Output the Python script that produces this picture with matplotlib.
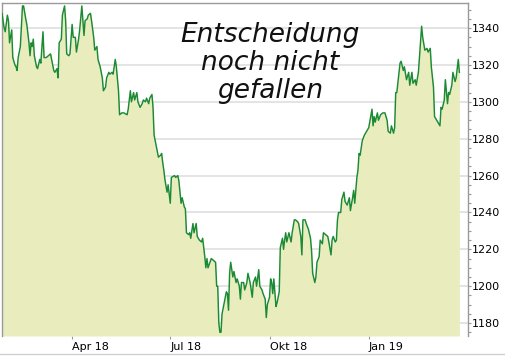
import pandas as pd
import matplotlib
matplotlib.use('Agg')
import matplotlib.pyplot as plt
from matplotlib.ticker import MultipleLocator
from matplotlib.lines import Line2D

# gold price, days counted from the first point
start = '2018-01-26'
days = [0, 2, 3, 5, 6, 7, 9, 10, 12, 13, 14, 15, 17, 19, 20, 22, 23, 25, 26, 27,
        28, 29, 30, 32, 33, 35, 36, 38, 39, 41, 43, 45, 46, 48, 49, 51, 52, 53, 55, 56,
        58, 59, 60, 62, 63, 65, 66, 68, 69, 71, 72, 74, 76, 77, 79, 80, 82, 83, 85, 86,
        88, 89, 91, 93, 94, 96, 97, 99, 100, 102, 103, 105, 106, 108, 109, 111, 113, 116, 117, 119,
        120, 122, 123, 125, 126, 128, 130, 131, 133, 134, 136, 137, 139, 140, 141, 142, 143, 145, 147, 148,
        149, 150, 151, 153, 154, 156, 157, 160, 161, 163, 164, 166, 167, 169, 170, 171, 173, 174, 175, 177,
        178, 180, 181, 183, 185, 186, 187, 188, 189, 190, 191, 194, 196, 198, 199, 200, 201, 202, 203, 204,
        206, 208, 209, 210, 211, 212, 214, 215, 217, 218, 220, 221, 222, 224, 225, 227, 228, 230, 232, 233,
        235, 236, 238, 239, 241, 242, 244, 245, 246, 248, 249, 250, 251, 252, 254, 255, 257, 258, 260, 261,
        262, 263, 264, 266, 268, 269, 271, 272, 274, 275, 277, 278, 279, 281, 282, 284, 286, 287, 288, 290,
        291, 292, 294, 295, 297, 298, 300, 302, 303, 305, 306, 307, 309, 310, 311, 312, 314, 315, 317, 318,
        320, 322, 323, 325, 326, 327, 329, 330, 331, 332, 334, 336, 337, 339, 340, 343, 344, 345, 346, 348,
        349, 351, 353, 355, 357, 358, 360, 361, 363, 364, 365, 366, 368, 369, 370, 372, 373, 375, 377, 378,
        380, 381, 383, 384, 386, 387, 389, 390, 392, 394, 395, 397, 398, 400, 401, 403, 404, 406, 407, 408,
        410, 411, 413, 414, 415, 417, 418, 420, 421, 423, 424]
prices = [1348, 1340, 1338, 1347, 1344, 1332, 1339, 1324, 1320, 1319, 1317, 1324, 1330, 1352, 1352, 1345, 1342, 1332, 1325, 1332,
          1330, 1334, 1325, 1319, 1318, 1323, 1321, 1338, 1324, 1324, 1325, 1326, 1323, 1317, 1316, 1318, 1313, 1332, 1334, 1347,
          1352, 1344, 1326, 1325, 1326, 1342, 1335, 1335, 1327, 1334, 1339, 1352, 1336, 1344, 1345, 1347, 1348, 1344, 1335, 1328,
          1330, 1323, 1319, 1313, 1306, 1308, 1313, 1316, 1315, 1316, 1315, 1323, 1319, 1306, 1293, 1294, 1294, 1293, 1296, 1306,
          1300, 1305, 1301, 1305, 1300, 1297, 1299, 1301, 1300, 1302, 1299, 1302, 1304, 1297, 1282, 1279, 1276, 1270, 1271, 1272,
          1267, 1263, 1258, 1251, 1255, 1245, 1259, 1260, 1259, 1260, 1257, 1245, 1248, 1243, 1242, 1229, 1228, 1229, 1226, 1234,
          1229, 1234, 1227, 1225, 1224, 1226, 1221, 1216, 1210, 1215, 1210, 1215, 1214, 1213, 1200, 1200, 1180, 1175, 1175, 1185,
          1191, 1197, 1196, 1187, 1207, 1213, 1205, 1208, 1202, 1204, 1200, 1193, 1202, 1202, 1198, 1202, 1207, 1202, 1194, 1202,
          1205, 1200, 1209, 1200, 1198, 1196, 1193, 1183, 1190, 1194, 1204, 1202, 1196, 1204, 1189, 1191, 1197, 1221, 1226, 1220,
          1225, 1229, 1224, 1229, 1224, 1229, 1236, 1236, 1235, 1234, 1227, 1217, 1236, 1236, 1234, 1231, 1226, 1219, 1207, 1202,
          1205, 1213, 1216, 1225, 1223, 1229, 1228, 1227, 1224, 1217, 1225, 1227, 1224, 1225, 1236, 1240, 1240, 1247, 1251, 1246,
          1244, 1248, 1241, 1248, 1252, 1245, 1259, 1263, 1272, 1271, 1279, 1282, 1283, 1285, 1286, 1296, 1287, 1292, 1289, 1294,
          1290, 1293, 1294, 1294, 1290, 1284, 1283, 1287, 1283, 1286, 1305, 1305, 1316, 1321, 1322, 1317, 1319, 1312, 1316, 1309,
          1316, 1310, 1312, 1309, 1316, 1324, 1341, 1335, 1328, 1329, 1327, 1329, 1319, 1308, 1292, 1290, 1289, 1287, 1297, 1296,
          1301, 1312, 1299, 1305, 1304, 1309, 1316, 1311, 1313, 1323, 1316]

tick_dates = ['2018-04-01', '2018-07-01', '2018-10-01', '2019-01-01']
tick_labels = ['Apr 18', 'Jul 18', 'Okt 18', 'Jan 19']
note = 'Entscheidung\nnoch nicht\ngefallen'


def main():
    dates = pd.Timestamp(start) + pd.to_timedelta(days, unit='D')

    fig = plt.figure(figsize=(5.06, 3.57), dpi=100)
    ax = fig.add_axes([2 / 506, 1 - 336 / 357, 466 / 506, 333 / 357])

    ax.set_xlim(pd.Timestamp(start), pd.Timestamp(start) + pd.Timedelta(days=432))
    ax.set_ylim(1173, 1353.6)

    ax.fill_between(dates, prices, ax.get_ylim()[0], color='#e9ecbd', lw=0, zorder=2)
    ax.plot(dates, prices, color='#1b8a35', lw=1.05, zorder=3)

    ax.yaxis.set_major_locator(MultipleLocator(20))
    ax.yaxis.set_minor_locator(MultipleLocator(5))
    ax.yaxis.tick_right()
    ax.grid(axis='y', color='#e2e2e2', lw=1.3, zorder=1)
    ax.tick_params(axis='y', which='both', direction='out', length=2, width=0.8,
                   color='#9a9a9a', labelsize=8, pad=1)

    ax.set_xticks(pd.to_datetime(tick_dates))
    ax.set_xticklabels(tick_labels, ha='left')
    ax.tick_params(axis='x', direction='out', length=2, width=0.8,
                   color='#9a9a9a', labelsize=8, pad=2)

    for s in ['top', 'left', 'right']:
        ax.spines[s].set_color('#9a9a9a')
        ax.spines[s].set_linewidth(1.0)
    ax.spines['bottom'].set_visible(False)

    # handwritten note in the original, no script font here
    ax.text(0.575, 0.82, note, transform=ax.transAxes, ha='center', va='center',
            style='italic', fontsize=19, linespacing=1.08, color='#111111', zorder=5)

    fig.add_artist(Line2D([0, 1], [3 / 357, 3 / 357], color='#cfcfcf', lw=1.0))

    fig.savefig('out.png', dpi=100)


if __name__ == '__main__':
    main()
